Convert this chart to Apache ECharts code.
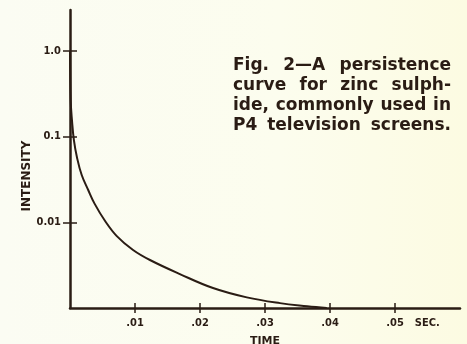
<!DOCTYPE html>
<html>
<head>
<meta charset="utf-8">
<script src="https://cdn.jsdelivr.net/npm/echarts@6/dist/echarts.min.js"></script>
<style>
  html, body { margin: 0; padding: 0; }
  body { background: linear-gradient(90deg, #fbfcf3 0%, #fcfdee 60%, #fcfbe2 100%); }
  #chart { width: 467px; height: 344px; }
</style>
</head>
<body>
<div id="chart"></div>
<script>
// Persistence (decay) curve of a zinc-sulphide phosphor
const timeSec   = [0, 0.0001, 0.0003, 0.0006, 0.0011, 0.0018, 0.0028, 0.0038, 0.0054, 0.0072, 0.0097, 0.0123, 0.0169, 0.022, 0.0272, 0.0323, 0.0365, 0.0395];
const intensity = [1.0, 0.267, 0.156, 0.091, 0.056, 0.0356, 0.0238, 0.0164, 0.01035, 0.0069, 0.00475, 0.00363, 0.00249, 0.00171, 0.00133, 0.00114, 0.00105, 0.0010];

const xTicks = [0.01, 0.02, 0.03, 0.04, 0.05];
const xTickLabels = ['.01', '.02', '.03', '.04', '.05'];
const yTicks = [0.01, 0.1, 1.0];
const yTickLabels = ['0.01', '0.1', '1.0'];

const caption = [
  'Fig. 2—A persistence',
  'curve for zinc sulph-',
  'ide, commonly used in',
  'P4 television screens.'
];

const ink = '#2a1c14';
const capFont = '"DejaVu Sans", sans-serif';
const numFont = '"DejaVu Sans Condensed", "DejaVu Sans", sans-serif';
const capSize = 17;
const capWidth = 218;

// Justify every caption line to the same width with sized gap tokens
const ctx = document.createElement('canvas').getContext('2d');
ctx.font = 'bold ' + capSize + 'px ' + capFont;
const capRich = {
  w: { fontFamily: capFont, fontSize: capSize, fontWeight: 'bold', color: ink, lineHeight: 20 }
};
const capText = caption.map((line, li) => {
  const words = line.split(' ');
  const used = words.reduce((s, w) => s + ctx.measureText(w).width, 0);
  const gap = (capWidth - used) / (words.length - 1);
  capRich['g' + li] = { width: gap, fontSize: capSize, lineHeight: 20 };
  return words.map(w => '{w|' + w + '}').join('{g' + li + '| }');
}).join('\n');

const points = timeSec.map((t, i) => [t, intensity[i]]);

const chart = echarts.init(document.getElementById('chart'), null, { renderer: 'canvas' });

const xBase = {
  type: 'value', min: 0, max: 0.06, position: 'bottom',
  splitLine: { show: false }
};
const yBase = {
  type: 'log', logBase: 10, min: 0.001, max: 3, position: 'left',
  splitLine: { show: false }
};

chart.setOption({
  backgroundColor: 'transparent',
  animation: false,
  title: {
    text: capText,
    left: 233, top: 56, padding: 0,
    textStyle: { fontFamily: capFont, fontSize: capSize, fontWeight: 'bold', lineHeight: 20, color: ink, rich: capRich }
  },
  grid: { left: 70, right: 7, top: 10, bottom: 36, containLabel: false, outerBoundsMode: 'none' },
  xAxis: [
    Object.assign({}, xBase, {
      name: 'TIME', nameLocation: 'middle', nameGap: 28,
      nameTextStyle: { fontFamily: capFont, fontSize: 11, fontWeight: 'bold', color: ink, verticalAlign: 'top' },
      axisLine: { show: true, lineStyle: { color: ink, width: 2.5 } },
      axisTick: { show: true, length: 5, customValues: xTicks, lineStyle: { color: ink, width: 1.5 } },
      axisLabel: {
        customValues: xTicks, margin: 10, color: ink,
        fontFamily: numFont, fontSize: 11, fontWeight: 'bold',
        formatter: v => {
          const i = xTicks.findIndex(t => Math.abs(t - v) < 1e-9);
          if (i < 0) return '';
          if (i === xTicks.length - 1) return '{p| }' + xTickLabels[i] + '{s|SEC.}';
          return xTickLabels[i];
        },
        rich: {
          p: { width: 36 },
          s: { width: 36, align: 'right', fontFamily: numFont, fontSize: 11, fontWeight: 'bold', color: ink }
        }
      }
    }),
    Object.assign({}, xBase, {
      axisLine: { show: false },
      axisTick: { show: true, inside: true, length: 5, customValues: xTicks, lineStyle: { color: ink, width: 1.5 } },
      axisLabel: { show: false }
    })
  ],
  yAxis: [
    Object.assign({}, yBase, {
      name: 'INTENSITY', nameLocation: 'middle', nameGap: 37, nameRotate: 90,
      nameMoveOverlap: false,
      nameTextStyle: { fontFamily: capFont, fontSize: 12, fontWeight: 'bold', color: ink, padding: [0, 34, 0, 0] },
      axisLine: { show: true, lineStyle: { color: ink, width: 2.5 } },
      axisTick: { show: true, length: 7, customValues: yTicks, lineStyle: { color: ink, width: 1.5 } },
      axisLabel: {
        customValues: yTicks, margin: 9, color: ink,
        fontFamily: numFont, fontSize: 11, fontWeight: 'bold',
        formatter: v => {
          const i = yTicks.findIndex(t => Math.abs(Math.log10(t) - Math.log10(v)) < 1e-6);
          return i < 0 ? '' : yTickLabels[i];
        }
      }
    }),
    Object.assign({}, yBase, {
      axisLine: { show: false },
      axisTick: { show: true, inside: true, length: 7, customValues: yTicks, lineStyle: { color: ink, width: 1.5 } },
      axisLabel: { show: false }
    })
  ],
  series: [{
    type: 'line',
    data: points,
    xAxisIndex: 0, yAxisIndex: 0,
    smooth: 0.4,
    showSymbol: false,
    lineStyle: { color: ink, width: 2 },
    z: 3
  }]
});
</script>
</body>
</html>
